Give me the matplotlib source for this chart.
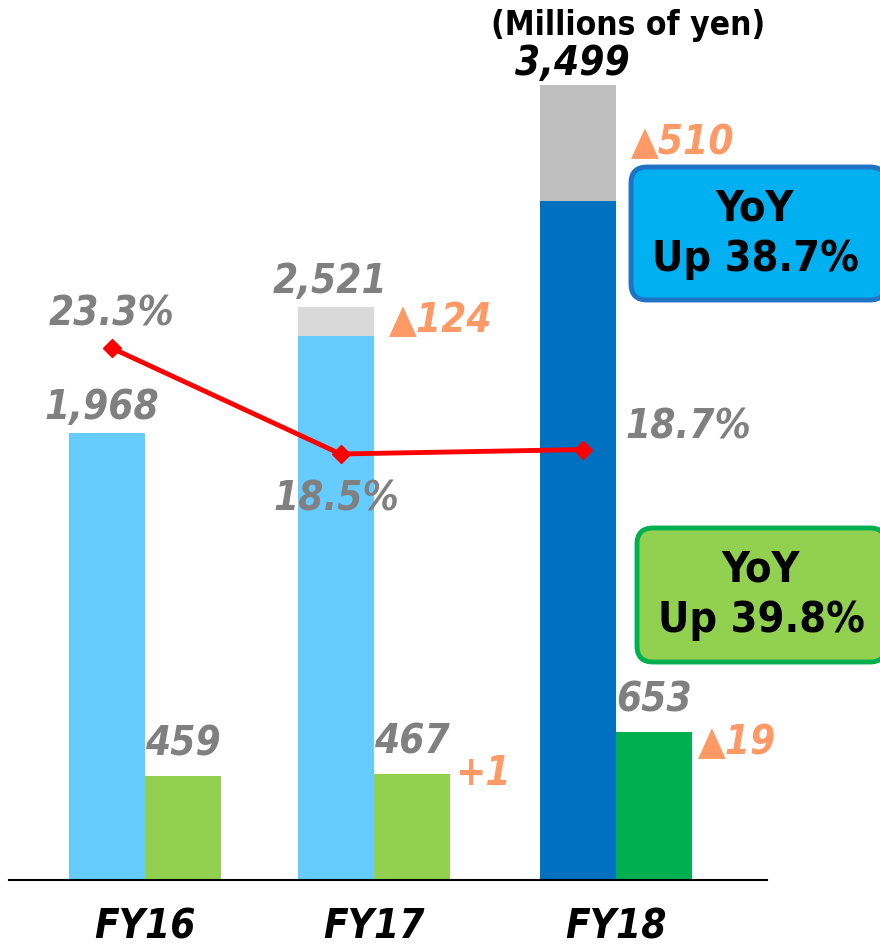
import matplotlib
matplotlib.use('Agg')
from matplotlib import pyplot as plt
from matplotlib.patches import FancyBboxPatch

# data (millions of yen)
years = ['FY16', 'FY17', 'FY18']
sales = [1968, 2521, 3499]
sales_delta = [0, 124, 510]
profit = [459, 467, 653]
margin = [23.3, 18.5, 18.7]
sales_labels = ['1,968', '2,521', '3,499']
sales_delta_labels = [None, '▲124', '▲510']
profit_labels = ['459', '467', '653']
profit_delta_labels = [None, '+1', '▲19']
margin_labels = ['23.3%', '18.5%', '18.7%']
yoy_sales = 'YoY\nUp 38.7%'
yoy_profit = 'YoY\nUp 39.8%'

xpos = [0, 1, 2.057]
w = 0.332
blue = ['#66ccff', '#66ccff', '#0070c0']
grey = ['#d9d9d9', '#d9d9d9', '#bfbfbf']
green = ['#92d050', '#92d050', '#00b050']
gray_txt = '#808080'
orange = '#ff9966'

plt.rcParams['font.family'] = ['DejaVu Sans']
fnt = dict(fontweight='bold', fontstretch='condensed')

fig = plt.figure(figsize=(8.8, 9.46), dpi=100)
ax = fig.add_axes([0, 0, 1, 1])
ax.set_xlim(-145 / 229, 735 / 229)
ax.set_ylim(-66 / 0.2271, 880 / 0.2271)
ax.axis('off')

for i in range(3):
    xb = xpos[i] - w / 2
    xg = xpos[i] + w / 2
    base = sales[i] - sales_delta[i]
    ax.bar(xb, base, w, color=blue[i])
    if sales_delta[i]:
        ax.bar(xb, sales_delta[i], w, bottom=base, color=grey[i])
        ax.annotate(sales_delta_labels[i], (xpos[i], sales[i] - sales_delta[i] / 2),
                    xytext=(11, 0), textcoords='offset points', ha='left', va='center',
                    color=orange, fontsize=29, style='italic', **fnt)
    ax.bar(xg, profit[i], w, color=green[i])

    c = 'black' if i == 2 else gray_txt
    ax.annotate(sales_labels[i], (xb, sales[i]), xytext=(-4, 1 if i == 2 else 4),
                textcoords='offset points', ha='center', va='bottom', color=c,
                fontsize=29, style='italic', **fnt)
    ax.annotate(profit_labels[i], (xg, profit[i]), xytext=(0, 8), textcoords='offset points',
                ha='center', va='bottom', color=gray_txt, fontsize=29, style='italic', **fnt)
    if profit_delta_labels[i]:
        ax.annotate(profit_delta_labels[i], (xpos[i] + w, profit[i]),
                    xytext=(4, -8 if i == 2 else 0), textcoords='offset points',
                    ha='left', va='center', color=orange, fontsize=29, style='italic', **fnt)

ax.axhline(0, xmin=9 / 880, xmax=767 / 880, color='black', lw=1.5)

for i in range(3):
    ax.text(xpos[i], -208, years[i], ha='center', va='center', fontsize=29,
            style='italic', color='black', **fnt)

# margin line on its own scale
ax2 = ax.twinx()
ax2.set_ylim(23.3 - 598 / 22.08, 23.3 + 348 / 22.08)
ax2.axis('off')
lx = [x - w / 2 + 0.02 for x in xpos]
ax2.plot(lx, margin, color='red', lw=3.5, marker='D', ms=9)
moff = [(0, 24), (-3, -33), (76, 16)]
for i in range(3):
    ax2.annotate(margin_labels[i], (lx[i], margin[i]), xytext=moff[i], textcoords='offset points',
                 ha='center', va='center', color=gray_txt, fontsize=29, style='italic', **fnt)

fig.text(628 / 880, 1 - 26 / 946, '(Millions of yen)', ha='center', va='center',
         fontsize=24, color='black', **fnt)

# YoY boxes (inches, from bottom-left)
boxes = [(6.31, 6.46, 2.55, 1.33, '#00b0f0', '#1f72c4', yoy_sales),
         (6.37, 2.84, 2.49, 1.34, '#92d050', '#00b050', yoy_profit)]
for x0, y0, bw, bh, fc, ec, txt in boxes:
    fig.add_artist(FancyBboxPatch((x0, y0), bw, bh, boxstyle='round,pad=0,rounding_size=0.16',
                                  transform=fig.dpi_scale_trans, fc=fc, ec=ec, lw=3.5))
    fig.text((x0 + 1.24) / 8.8, (y0 + bh / 2) / 9.46, txt, ha='center', va='center',
             fontsize=31, linespacing=1.25, color='black', **fnt)

fig.savefig('out.png', dpi=100)
